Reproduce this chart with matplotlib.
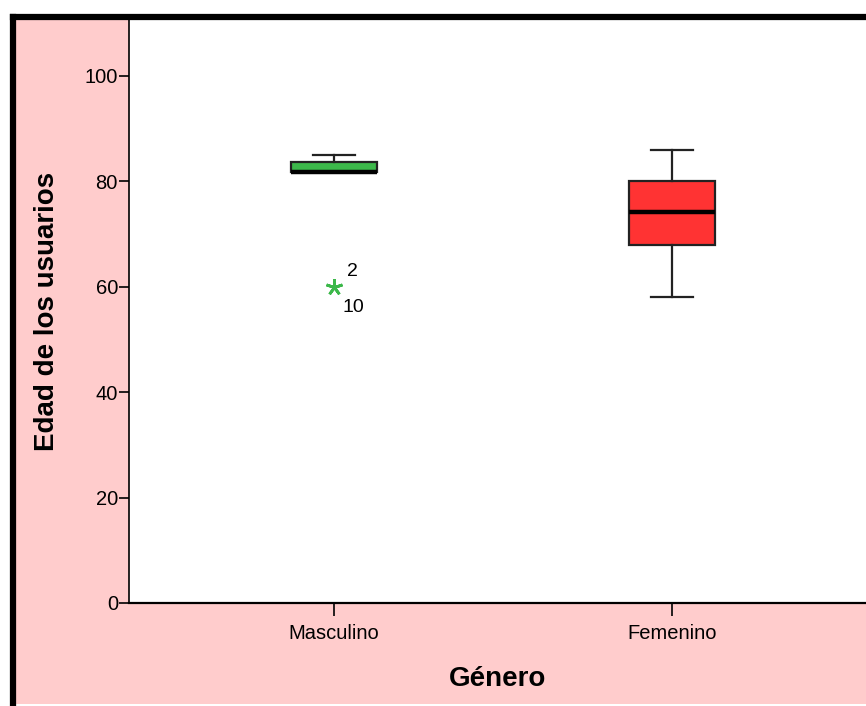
import matplotlib
matplotlib.use("Agg")
import matplotlib.pyplot as plt
from matplotlib.patches import Rectangle
from matplotlib.lines import Line2D

# Edad de los usuarios por género
categorias = ["Masculino", "Femenino"]
q1 = [81.8, 68.0]
mediana = [81.8, 74.2]
q3 = [83.7, 80.0]
bigote_inf = [81.8, 58.0]
bigote_sup = [85.0, 86.0]
atipicos = [[60.0], []]
etiquetas_atipicos = ["2", "10"]
colores = ["#3cb84a", "#ff3333"]
y_ticks = [0, 20, 40, 60, 80, 100]

plt.rcParams["font.family"] = ["Liberation Sans", "DejaVu Sans"]

fig = plt.figure(figsize=(8.66, 7.06), dpi=100)
fig.patch.set_facecolor("white")

W, H = 866, 706
# fondo rosa y marco negro (superior e izquierdo)
fig.patches.append(Rectangle((13 / W, 2 / H), 1.0, (H - 19) / H,
                             transform=fig.transFigure, facecolor="#ffcccc",
                             edgecolor="none", zorder=-5))
fig.lines.append(Line2D([13 / W, 13 / W], [2 / H, (H - 17) / H], transform=fig.transFigure,
                        color="black", lw=4.5, solid_capstyle="projecting", zorder=10))
fig.lines.append(Line2D([13 / W, 1.0], [(H - 17) / H, (H - 17) / H], transform=fig.transFigure,
                        color="black", lw=4.5, solid_capstyle="projecting", zorder=10))

ax = fig.add_axes([129 / W, (H - 603) / H, (W - 129) / W, (603 - 20) / H])
ax.set_zorder(2)
ax.set_facecolor("white")

stats = []
for i, nombre in enumerate(categorias):
    stats.append({
        "label": nombre,
        "med": mediana[i],
        "q1": q1[i],
        "q3": q3[i],
        "whislo": bigote_inf[i],
        "whishi": bigote_sup[i],
        "fliers": atipicos[i],
    })

pos = [1, 2]
bp = ax.bxp(stats, positions=pos, widths=0.254, patch_artist=True, showfliers=False,
            boxprops=dict(edgecolor="#222222", linewidth=1.6),
            medianprops=dict(color="black", linewidth=3.2),
            whiskerprops=dict(color="#222222", linewidth=1.6),
            capprops=dict(color="#222222", linewidth=1.6),
            capwidths=0.124)
for caja, c in zip(bp["boxes"], colores):
    caja.set_facecolor(c)

# atípico extremo (asterisco) con sus etiquetas de caso
for i, vals in enumerate(atipicos):
    for v in vals:
        ax.plot(pos[i], v, marker=(5, 2, 0), color=colores[i], markersize=12,
                markeredgewidth=2, linestyle="none")
        ax.annotate(etiquetas_atipicos[0], (pos[i], v), xytext=(13, 11), textcoords="offset points",
                    fontsize=14, ha="center", va="center")
        ax.annotate(etiquetas_atipicos[1], (pos[i], v), xytext=(14, -15), textcoords="offset points",
                    fontsize=14, ha="center", va="center")

ax.set_xlim(0.3935, 2.574)
ax.set_ylim(0, 110.6)
ax.set_yticks(y_ticks)
ax.set_xticks(pos)
ax.set_xticklabels(categorias)

for s in ["top", "right"]:
    ax.spines[s].set_visible(False)
ax.spines["left"].set_linewidth(1.2)
ax.spines["bottom"].set_linewidth(1.6)
ax.tick_params(axis="y", length=7, width=1.2, labelsize=14.5, pad=1)
ax.tick_params(axis="x", length=9, width=1.2, labelsize=14.5, pad=6)

ax.set_ylabel("Edad de los usuarios", fontsize=20, fontweight="bold", labelpad=18)
ax.set_xlabel("Género", fontsize=20, fontweight="bold", labelpad=17)

fig.savefig("out.png", dpi=100)
